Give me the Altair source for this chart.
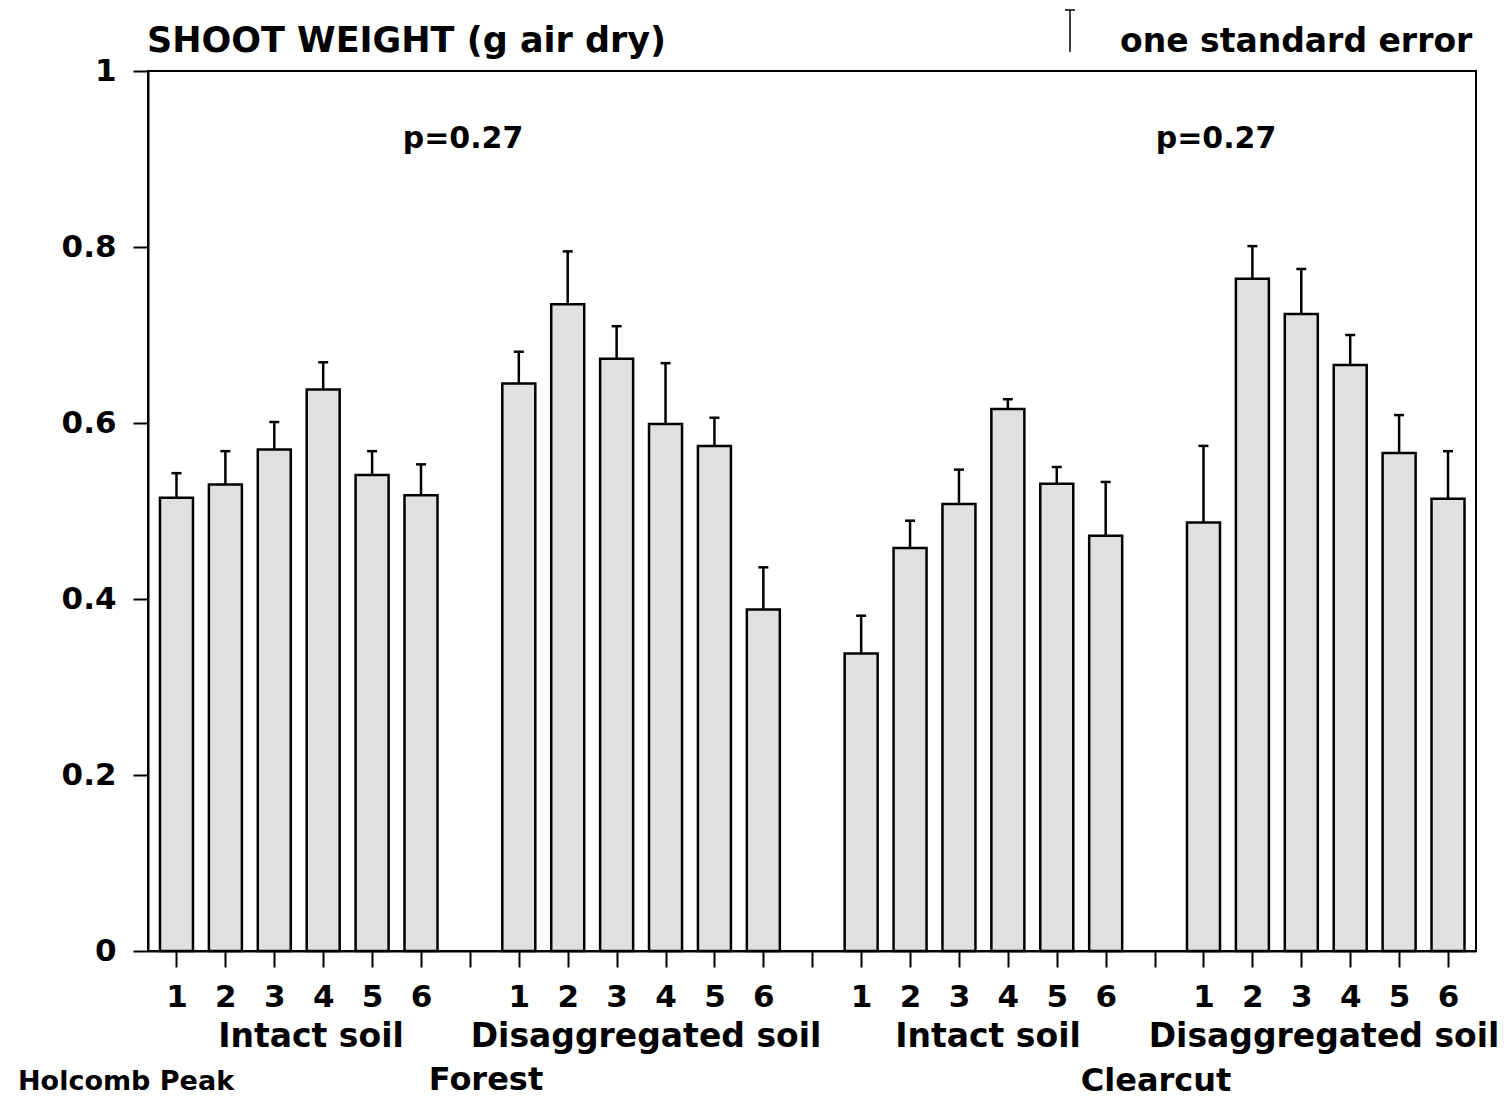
import altair as alt
import pandas as pd

FONT = "DejaVu Sans"

# ---- data ----
group_names = ["Forest - Intact soil", "Forest - Disaggregated soil",
               "Clearcut - Intact soil", "Clearcut - Disaggregated soil"]
populations = [1, 2, 3, 4, 5, 6]

forest_intact_mean = [0.515, 0.530, 0.570, 0.638, 0.541, 0.518]
forest_intact_se = [0.028, 0.038, 0.031, 0.031, 0.027, 0.035]

forest_disagg_mean = [0.645, 0.735, 0.673, 0.599, 0.574, 0.388]
forest_disagg_se = [0.036, 0.060, 0.037, 0.069, 0.032, 0.048]

clearcut_intact_mean = [0.338, 0.458, 0.508, 0.616, 0.531, 0.472]
clearcut_intact_se = [0.043, 0.031, 0.039, 0.011, 0.019, 0.061]

clearcut_disagg_mean = [0.487, 0.764, 0.724, 0.666, 0.566, 0.514]
clearcut_disagg_se = [0.087, 0.037, 0.051, 0.034, 0.043, 0.054]

y_ticks = [0, 0.2, 0.4, 0.6, 0.8, 1.0]
p_values = ["p=0.27", "p=0.27"]

means = [forest_intact_mean, forest_disagg_mean, clearcut_intact_mean, clearcut_disagg_mean]
ses = [forest_intact_se, forest_disagg_se, clearcut_intact_se, clearcut_disagg_se]

rows = []
for g, name in enumerate(group_names):
    for i, pop in enumerate(populations):
        m = means[g][i]
        s = ses[g][i]
        rows.append({"group": name, "pop": pop, "slot": g * 7 + pop,
                     "mean": m, "top": m + s})
df = pd.DataFrame(rows)
slots = list(range(1, 28))

# ---- layout ----
W, H = 1328, 880
xscale = alt.Scale(domain=[0.52, 27.47], nice=False, zero=False)
yscale = alt.Scale(domain=[0, 1], nice=False)

xaxis = alt.Axis(values=slots, title=None, grid=False,
                 labelExpr="datum.value % 7 == 0 ? '' : '' + (datum.value % 7)",
                 tickSize=16, tickWidth=2, tickColor="black",
                 domainColor="black", domainWidth=2,
                 labelFont=FONT, labelFontSize=31, labelFontWeight="bold",
                 labelColor="black",
                 labelPadding=15, labelFlush=False, labelOverlap=False)
yaxis = alt.Axis(values=y_ticks, title=None, grid=False, format=".1~f",
                 tickSize=15, tickWidth=2, tickColor="black",
                 domainColor="black", domainWidth=2,
                 labelFont=FONT, labelFontSize=31, labelFontWeight="bold",
                 labelColor="black",
                 labelPadding=17, labelFlush=False, labelOverlap=False)

bars = alt.Chart(df).mark_bar(size=33, fill="#e0e0e0", stroke="black",
                              strokeWidth=2.5).encode(
    x=alt.X("slot:Q", scale=xscale, axis=xaxis),
    y=alt.Y("mean:Q", scale=yscale, axis=yaxis),
)
whisker = alt.Chart(df).mark_rule(color="black", strokeWidth=2.5).encode(
    x=alt.X("slot:Q", scale=xscale),
    y=alt.Y("mean:Q", scale=yscale),
    y2="top:Q",
)
caps = alt.Chart(df).mark_tick(orient="horizontal", size=10, thickness=2.5,
                               color="black", opacity=1).encode(
    x=alt.X("slot:Q", scale=xscale),
    y=alt.Y("top:Q", scale=yscale),
)


def label(text, x, y, size, align="center", weight="bold"):
    return alt.Chart(pd.DataFrame({"t": [text]})).mark_text(
        align=align, baseline="alphabetic", fontSize=size, fontWeight=weight,
        font=FONT, color="black").encode(
        x=alt.value(x), y=alt.value(y), text="t:N")


def seg(x, y, x2, y2, w=1.5):
    return alt.Chart(pd.DataFrame({"a": [0]})).mark_rule(
        color="black", strokeWidth=w).encode(
        x=alt.value(x), x2=alt.value(x2), y=alt.value(y), y2=alt.value(y2))


texts = [
    label("SHOOT WEIGHT (g air dry)", -1, -19, 35, align="left"),
    label("one standard error", 972, -19, 33, align="left"),
    label(p_values[0], 315, 77, 30),
    label(p_values[1], 1068, 77, 30),
    label("Intact soil", 163, 976, 33),
    label("Disaggregated soil", 498, 976, 33),
    label("Intact soil", 840, 976, 33),
    label("Disaggregated soil", 1176, 976, 33),
    label("Holcomb Peak", -130, 1019, 27, align="left"),
    label("Forest", 338, 1019, 32),
    label("Clearcut", 1008, 1020, 32),
    seg(922, -61, 922, -19),
    seg(917, -61, 927, -61),
]

chart = alt.layer(bars, whisker, caps, *texts).properties(
    width=W, height=H,
    autosize=alt.AutoSizeParams(type="none"),
    padding={"left": 148, "top": 71, "right": 35, "bottom": 148},
    background="white",
).configure_view(stroke="black", strokeWidth=2)

chart.save("out.html", embed_options={"renderer": "svg", "actions": False})
